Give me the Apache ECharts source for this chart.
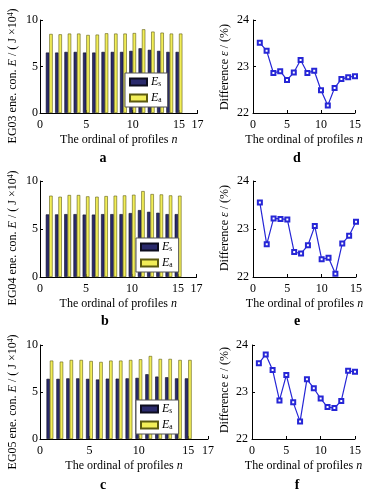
<!DOCTYPE html>
<html>
<head>
<meta charset="utf-8">
<script src="https://cdn.jsdelivr.net/npm/echarts@6/dist/echarts.min.js"></script>
<style>html,body{margin:0;padding:0;background:#fff;}#c{width:377px;height:499px;}</style>
</head>
<body>
<div id="c"></div>
<script>
const profiles = [1,2,3,4,5,6,7,8,9,10,11,12,13,14,15];
const esA = [6.5,6.5,6.57,6.57,6.5,6.5,6.57,6.57,6.57,6.68,6.96,6.79,6.68,6.57,6.57];
const eaA = [8.5,8.46,8.54,8.54,8.39,8.43,8.57,8.54,8.54,8.6,9.0,8.75,8.64,8.54,8.54];
const esB = [6.52,6.52,6.55,6.55,6.5,6.5,6.55,6.55,6.55,6.66,6.97,6.79,6.69,6.55,6.55];
const eaB = [8.47,8.36,8.54,8.54,8.4,8.36,8.43,8.47,8.5,8.57,8.95,8.64,8.6,8.5,8.47];
const esC = [6.4,6.4,6.45,6.45,6.4,6.33,6.42,6.42,6.45,6.5,6.89,6.64,6.57,6.45,6.45];
const eaC = [8.34,8.23,8.41,8.41,8.3,8.2,8.34,8.34,8.41,8.48,8.83,8.52,8.52,8.41,8.41];
const diffD = [23.51,23.34,22.86,22.9,22.71,22.87,23.14,22.86,22.91,22.49,22.16,22.54,22.73,22.77,22.79];
const diffE = [23.55,22.68,23.22,23.21,23.2,22.52,22.49,22.66,23.06,22.37,22.4,22.07,22.7,22.86,23.15];
const diffF = [23.61,23.8,23.47,22.82,23.36,22.78,22.37,23.27,23.08,22.86,22.68,22.66,22.81,23.45,23.43];
const barXTicks = {min:0, max:17, interval:5};
const lineXTicks = {min:0, max:15, interval:5};
const barYTicks = {min:0, max:10, interval:5};
const lineYTicks = {min:22, max:24, interval:1};
const yTitlesLeft = ['EG03', 'EG04', 'EG05'];
const panelLetters = ['a','b','c','d','e','f'];

const FONT = 'Liberation Serif';
const FS = 12;
const pairs = (vals) => vals.map((v,i) => [profiles[i], v]);

const grids = [
  {left:40, top:20, width:157.5, height:93},
  {left:40, top:181, width:156.5, height:96},
  {left:40, top:345, width:168, height:94},
  {left:253, top:20, width:102, height:93},
  {left:253, top:181, width:103, height:96},
  {left:252, top:345, width:103, height:94}
];

const richIt = {
  i:{fontStyle:'italic', fontFamily:FONT, fontSize:FS, color:'#000'},
  sup:{fontSize:7.5, fontFamily:FONT, verticalAlign:'top', color:'#000'},
  sub:{fontSize:7.5, fontFamily:FONT, verticalAlign:'bottom', color:'#000'}
};

function xAxis(i, ticks){
  return Object.assign({
    type:'value', gridIndex:i,
    name:'The ordinal of profiles {i|n}', nameLocation:'middle', nameGap:21,
    nameTextStyle:{fontFamily:FONT, fontSize:FS, color:'#000', rich:richIt},
    axisLine:{show:true, onZero:false, lineStyle:{color:'#000', width:1}},
    axisTick:{show:true, inside:true, length:3, lineStyle:{color:'#000'}},
    axisLabel:{fontFamily:FONT, fontSize:FS, color:'#000', margin:6, showMaxLabel:true},
    splitLine:{show:false}
  }, ticks);
}
function yAxis(i, ticks, margin){
  return Object.assign({
    type:'value', gridIndex:i,
    axisLine:{show:true, lineStyle:{color:'#000', width:1}},
    axisTick:{show:true, inside:true, length:3, lineStyle:{color:'#000'}},
    axisLabel:{fontFamily:FONT, fontSize:FS, color:'#000', margin:margin},
    splitLine:{show:false}
  }, ticks);
}

const esStyle = {color:'#2a2a6c', borderColor:'#0d0d1e', borderWidth:0.6};
const eaStyle = {color:'#f2ee58', borderColor:'#5c5a10', borderWidth:0.6};

const barSets = [[esA,eaA],[esB,eaB],[esC,eaC]];
const lineSets = [diffD, diffE, diffF];

const series = [];
barSets.forEach((set, k) => {
  series.push({type:'bar', name:'Es', xAxisIndex:k, yAxisIndex:k, data:pairs(set[0]),
    barWidth:3.4, barGap:'0%', itemStyle:esStyle, animation:false});
  series.push({type:'bar', name:'Ea', xAxisIndex:k, yAxisIndex:k, data:pairs(set[1]),
    barWidth:3.4, barGap:'0%', itemStyle:eaStyle, animation:false});
});
lineSets.forEach((set, k) => {
  series.push({type:'line', name:'diff'+k, xAxisIndex:3+k, yAxisIndex:3+k, data:pairs(set),
    symbol:'emptyRect', symbolSize:4, showAllSymbol:true,
    lineStyle:{color:'#2626d6', width:1.2}, itemStyle:{color:'#2626d6', borderColor:'#2626d6', borderWidth:1},
    animation:false});
});

const legendPos = [{left:125, top:73}, {left:136, top:238}, {left:136, top:400}];
const legends = legendPos.map(p => ({
  left:p.left, top:p.top, orient:'vertical', data:['Es','Ea'], icon:'rect',
  itemWidth:17, itemHeight:7, itemGap:4, padding:[3,6,3,4],
  backgroundColor:'#fff', borderColor:'#555', borderWidth:1, borderRadius:0,
  selectedMode:false,
  formatter: n => n === 'Es' ? '{i|E}{sub|s}' : '{i|E}{sub|a}',
  textStyle:{fontFamily:FONT, fontSize:FS, color:'#000', rich:richIt, padding:[0,0,0,-1]}
}));

const graphic = [];
const leftCenters = [76, 238, 402];
yTitlesLeft.forEach((g, k) => {
  graphic.push({type:'text', x:13, y:leftCenters[k], rotation:Math.PI/2,
    style:{text: g + ' ene. con. {i|E} / ( J ×10{sup|4})', rich:richIt,
      font:FS + 'px "' + FONT + '"', fill:'#000', align:'center', verticalAlign:'middle'}});
});
const rightCenters = [67, 228, 390];
rightCenters.forEach(cy => {
  graphic.push({type:'text', x:225, y:cy, rotation:Math.PI/2,
    style:{text:'Difference {i|ε} / (%)', rich:richIt,
      font:FS + 'px "' + FONT + '"', fill:'#000', align:'center', verticalAlign:'middle'}});
});
const letterPos = [[103,158],[105,321],[103,485],[297,158],[297,321],[297,485]];
panelLetters.forEach((L, k) => {
  graphic.push({type:'text', x:letterPos[k][0], y:letterPos[k][1],
    style:{text:L, font:'bold 14px "' + FONT + '"', fill:'#000', align:'center', verticalAlign:'middle'}});
});

const option = {
  backgroundColor:'#fff',
  animation:false,
  grid: grids,
  xAxis: [xAxis(0,barXTicks), xAxis(1,barXTicks), xAxis(2,barXTicks),
          xAxis(3,lineXTicks), xAxis(4,lineXTicks), xAxis(5,lineXTicks)],
  yAxis: [yAxis(0,barYTicks,2), yAxis(1,barYTicks,2), yAxis(2,barYTicks,2),
          yAxis(3,lineYTicks,4), yAxis(4,lineYTicks,4), yAxis(5,lineYTicks,4)],
  legend: legends,
  series: series,
  graphic: graphic
};
const chart = echarts.init(document.getElementById('c'), null, {renderer:'canvas'});
chart.setOption(option);
</script>
</body>
</html>
